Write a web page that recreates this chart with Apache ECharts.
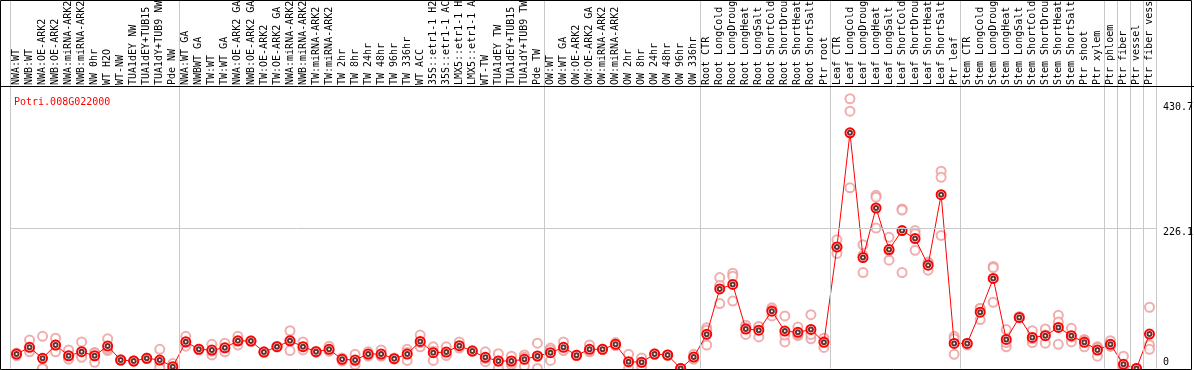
<!DOCTYPE html>
<html>
<head>
<meta charset="utf-8">
<script src="https://cdn.jsdelivr.net/npm/echarts@6/dist/echarts.min.js"></script>
<style>
  html, body { margin: 0; padding: 0; background: #fff; }
  #chart { width: 1194px; height: 370px; }
</style>
</head>
<body>
<div id="chart"></div>
<script>
var geneName = 'Potri.008G022000';

var categories = [
  'NWA:WT', 'NWB:WT', 'NWA:OE-ARK2', 'NWB:OE-ARK2', 'NWA:miRNA-ARK2', 'NWB:miRNA-ARK2',
  'NW 0hr', 'WT H2O', 'WT-NW', 'TUA1dEY NW', 'TUA1dEY+TUB15 NW', 'TUA1dY+TUB9 NW', 'Pde NW',
  'NWA:WT GA', 'NWBWT GA', 'TW:WT', 'TW:WT GA', 'NWA:OE-ARK2 GA', 'NWB:OE-ARK2 GA',
  'TW:OE-ARK2', 'TW:OE-ARK2 GA', 'NWA:miRNA-ARK2', 'NWB:miRNA-ARK2', 'TW:miRNA-ARK2',
  'TW:miRNA-ARK2', 'TW 2hr', 'TW 8hr', 'TW 24hr', 'TW 48hr', 'TW 96hr', 'TW 336hr', 'WT ACC',
  '35S::etr1-1 H2O', '35S::etr1-1 ACC', 'LMX5::etr1-1 H2O', 'LMX5::etr1-1 ACC', 'WT-TW',
  'TUA1dEY TW', 'TUA1dEY+TUB15 TW', 'TUA1dY+TUB9 TW', 'Pde TW',
  'OW:WT', 'OW:WT GA', 'OW:OE-ARK2', 'OW:OE-ARK2 GA', 'OW:miRNA-ARK2', 'OW:miRNA-ARK2',
  'OW 2hr', 'OW 8hr', 'OW 24hr', 'OW 48hr', 'OW 96hr', 'OW 336hr',
  'Root CTR', 'Root LongCold', 'Root LongDrought', 'Root LongHeat', 'Root LongSalt',
  'Root ShortCold', 'Root ShortDrought', 'Root ShortHeat', 'Root ShortSalt', 'Ptr root',
  'Leaf CTR', 'Leaf LongCold', 'Leaf LongDrought', 'Leaf LongHeat', 'Leaf LongSalt',
  'Leaf ShortCold', 'Leaf ShortDrought', 'Leaf ShortHeat', 'Leaf ShortSalt', 'Ptr leaf',
  'Stem CTR', 'Stem LongCold', 'Stem LongDrought', 'Stem LongHeat', 'Stem LongSalt',
  'Stem ShortCold', 'Stem ShortDrought', 'Stem ShortHeat', 'Stem ShortSalt', 'Ptr shoot',
  'Ptr xylem', 'Ptr phloem', 'Ptr fiber', 'Ptr vessel', 'Ptr fiber vessel'
];

// mean expression per sample
var means = [
  23.4, 34.2, 16.5, 37.9, 20.6, 27.1, 20.6, 36.3, 13.7, 12.1, 16.5, 13.7, 2.9,
  43.2, 31, 29.8, 33.5, 44.8, 44.4, 26.6, 35.2, 44.8, 35.2, 27.1, 31, 14.8, 13.7,
  23.4, 23.4, 15.8, 23.4, 43.8, 25.5, 26.6, 36.8, 28.2, 18, 12.1, 12.1, 14.8, 20.2,
  25.5, 34.2, 21.3, 31, 31, 39, 11, 10, 23.4, 21.8, 0, 18.5,
  55.3, 128.7, 135.8, 63.7, 62, 92.7, 60.5, 58.4, 63.2, 42.3,
  196.5, 381, 179.3, 259.4, 192.2, 222.9, 210, 167, 281, 40.6,
  40.6, 91, 145.5, 47, 82.6, 50.3, 53, 66.4, 53, 42.3,
  29.8, 39, 6.7, 0, 55.6
];

// replicates
var rep1 = [
  25, 46, 52, 49, 30, 43, 26, 48, 14, 12, 17, 31, 8,
  52, 31, 39, 41, 52, 44, 27, 35, 61, 43, 28, 36, 17, 23,
  27, 30, 16, 31, 54, 35, 35, 43, 29, 27, 24, 20, 22, 41,
  33, 43, 22, 38, 31, 42, 23, 17, 23, 22, 0, 23,
  66, 147, 154, 70, 67, 98, 85, 67, 87, 49,
  208, 436, 200, 280, 212, 258, 223, 172, 319, 52,
  40, 97, 165, 63, 84, 61, 64, 86, 65, 47,
  35, 45, 20, 0, 99
];
var rep2 = [
  21, 30, 0, 27, 17, 21, 25, 29, 13, 12, 16, 8, 0,
  36, 31, 22, 33, 38, 44, 26, 36, 29, 33, 26, 29, 12, 6,
  20, 20, 15, 13, 35, 13, 24, 35, 28, 11, 0, 6, 18, 0,
  13, 31, 21, 28, 31, 38, 0, 3, 23, 22, 0, 16,
  38, 105, 149, 55, 51, 95, 43, 53, 48, 34,
  195, 416, 183, 277, 175, 256, 218, 170, 309, 48,
  38, 97, 163, 35, 82, 42, 41, 75, 43, 35,
  20, 36, 0, 0, 38
];
var rep3 = [
  24, 27, 0, 38, 15, 18, 10, 32, 14, 12, 16, 1, 1,
  42, 31, 28, 27, 44, 45, 27, 35, 45, 30, 27, 28, 15, 12,
  23, 21, 17, 26, 42, 28, 21, 33, 28, 16, 12, 10, 4, 20,
  30, 29, 21, 27, 31, 37, 10, 10, 24, 21, 0, 15,
  62, 134, 109, 66, 68, 85, 54, 55, 55, 44,
  186, 292, 155, 227, 190, 155, 191, 159, 215, 23,
  41, 79, 107, 42, 82, 48, 54, 39, 51, 45,
  34, 36, 0, 0, 31
];

// sample group boundaries (category index)
var groupEdges = [0, 13, 41, 53, 63, 73, 84, 85, 86, 87, 88];
var yTicks = [0, 226.1, 430.7];

var font = 'DejaVu Sans Mono';
var chart = echarts.init(document.getElementById('chart'));

var repPoints = [];
[rep1, rep2, rep3].forEach(function (rep) {
  rep.forEach(function (v, i) { repPoints.push([i, v]); });
});
var meanPoints = means.map(function (v, i) { return [i, v]; });

var edgeLines = groupEdges.map(function (e) { return { xAxis: e }; });
var tickOffsets = [-6, 4, 5];
var tickLines = yTicks.map(function (t, k) {
  return {
    yAxis: t,
    lineStyle: { color: t === 226.1 ? '#c8c8c8' : 'rgba(0,0,0,0)' },
    label: { show: true, position: 'end', distance: 7, offset: [0, tickOffsets[k]],
      formatter: String(t), color: '#000', fontFamily: font, fontSize: 10 }
  };
});

var option = {
  animation: false,
  title: {
    text: geneName, left: 9, top: 92,
    textStyle: { color: '#ff0000', fontFamily: font, fontSize: 10, fontWeight: 'normal' }
  },
  grid: [
    { left: 10, right: 38, top: 87, bottom: 1.5, outerBoundsMode: 'none', containLabel: false },
    { left: 10, right: 38, top: 0, height: 87, outerBoundsMode: 'none', containLabel: false }
  ],
  xAxis: [
    {
      type: 'category', gridIndex: 0, position: 'top', data: categories,
      axisLine: { show: false }, axisTick: { show: false }, splitLine: { show: false },
      axisLabel: { interval: 0, rotate: 90, margin: 2, color: '#000', fontFamily: font, fontSize: 10 }
    },
    { type: 'value', gridIndex: 0, min: 0, max: 88, show: false },
    { type: 'value', gridIndex: 1, min: 0, max: 88, show: false }
  ],
  yAxis: [
    { type: 'value', gridIndex: 0, min: 0, max: 455, show: false },
    { type: 'value', gridIndex: 1, min: 0, max: 1, show: false }
  ],
  series: [
    {
      type: 'line', xAxisIndex: 1, yAxisIndex: 0, data: [[0, 0]], symbol: 'none',
      lineStyle: { opacity: 0 }, silent: true, z: 1,
      markLine: {
        silent: true, symbol: ['none', 'none'],
        lineStyle: { color: '#c8c8c8', width: 1, type: 'solid' },
        label: { show: false },
        data: edgeLines.concat(tickLines)
      }
    },
    {
      type: 'line', xAxisIndex: 2, yAxisIndex: 1, data: [[0, 0]], symbol: 'none',
      lineStyle: { opacity: 0 }, silent: true, z: 1,
      markLine: {
        silent: true, symbol: ['none', 'none'],
        lineStyle: { color: '#c8c8c8', width: 1, type: 'solid' },
        label: { show: false },
        data: edgeLines
      }
    },
    {
      type: 'scatter', xAxisIndex: 0, yAxisIndex: 0, data: repPoints,
      symbol: 'emptyCircle', symbolSize: 9, z: 2,
      itemStyle: { color: '#ec9a9a', borderColor: '#ec9a9a', borderWidth: 1.2 }
    },
    {
      type: 'line', xAxisIndex: 0, yAxisIndex: 0, data: meanPoints,
      symbol: 'emptyCircle', symbolSize: 9, z: 3,
      lineStyle: { color: '#ff0000', width: 1 },
      itemStyle: { color: '#ff0000', borderColor: '#ff0000', borderWidth: 1.6 }
    },
    {
      type: 'scatter', xAxisIndex: 0, yAxisIndex: 0, data: meanPoints,
      symbol: 'emptyCircle', symbolSize: 4, z: 4,
      itemStyle: { color: '#400000', borderColor: '#400000', borderWidth: 1 }
    }
  ],
  graphic: [
    { type: 'rect', silent: true, z: 100, shape: { x: 0.5, y: 0.5, width: 1191, height: 369 },
      style: { fill: 'none', stroke: '#000', lineWidth: 1 } },
    { type: 'line', silent: true, z: 100, shape: { x1: 0, y1: 86.5, x2: 1194, y2: 86.5 },
      style: { stroke: '#000', lineWidth: 1 } }
  ]
};
chart.setOption(option);
</script>
</body>
</html>
